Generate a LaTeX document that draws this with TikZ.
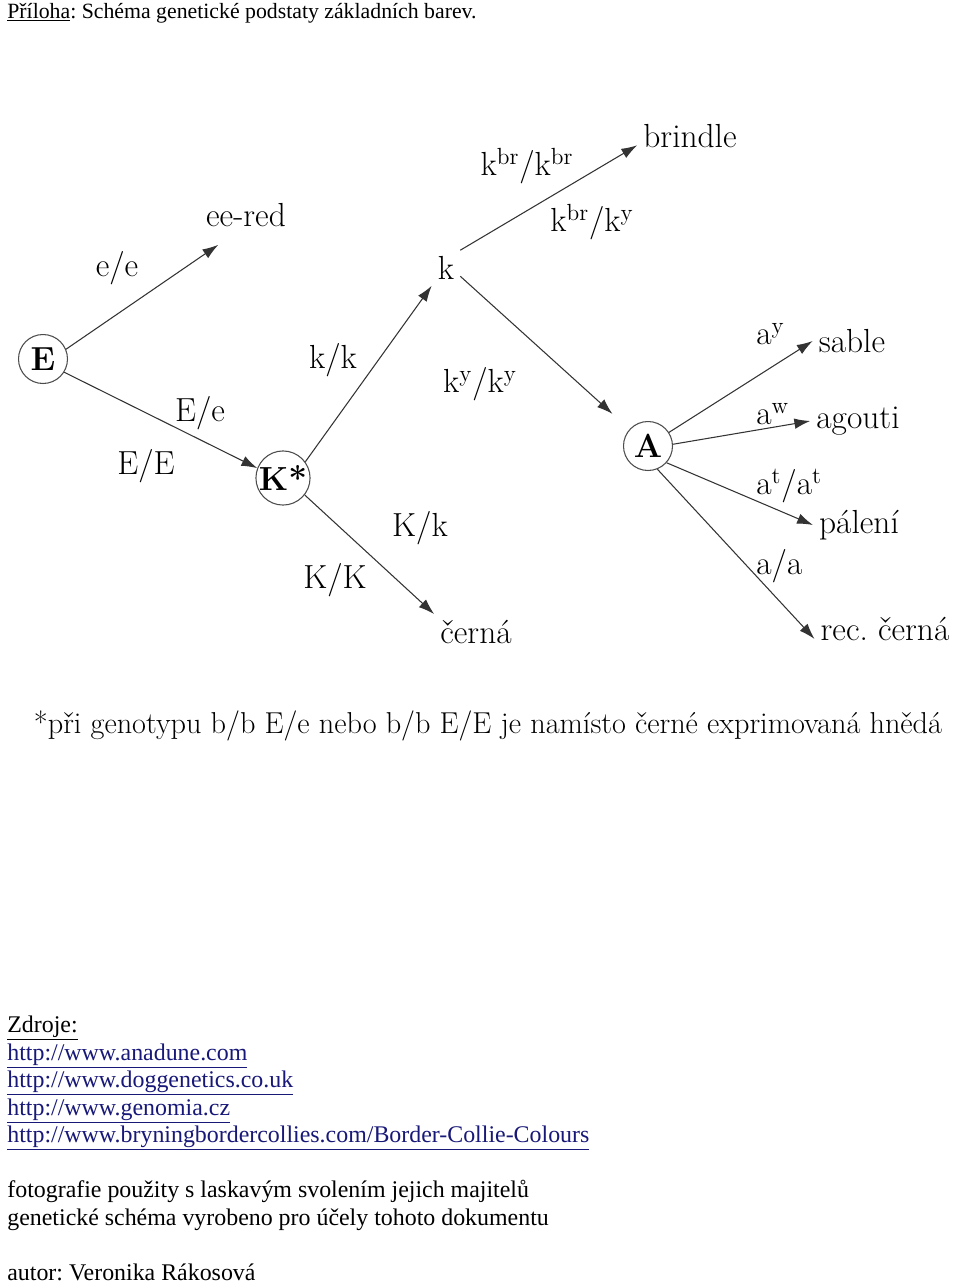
\documentclass[tikz,border=0pt]{standalone}
\usepackage{fontspec}
\newfontfamily\tnr{Liberation Serif}
\usetikzlibrary{arrows.meta}
\definecolor{linkblue}{RGB}{24,24,120}
\frenchspacing

\begin{document}
\begin{tikzpicture}[x=0.02cm, y=-0.02cm,
    gene/.style={circle, draw=black!70, line width=0.6pt, minimum size=0.98cm, inner sep=0pt, font=\fontsize{19}{22}\selectfont\bfseries},
    lbl/.style={font=\fontsize{19}{22}\selectfont},
    allele/.style={lbl, anchor=west, inner sep=0pt},
    doc/.style={anchor=base west, inner sep=0pt, font=\tnr\fontsize{13.6}{16}\selectfont},
    link/.style={doc, text=linkblue},
    arr/.style={-{Latex[length=9pt, width=6pt]}, draw=black!80, line width=0.6pt}]
        \useasboundingbox (0,0) rectangle (960,1285);
        \fill[white] (0,0) rectangle (960,1285);

        % header
        \node[doc, font=\tnr\fontsize{12.4}{15}\selectfont] at (7, 18) (head) {\underline{Příloha}: Schéma genetické podstaty základních barev.};

        % loci
        \node[gene] at (43, 359)  (e)   {E};
        \node[gene] at (283, 478) (kst) {K*};
        \node[gene] at (648, 446) (a)   {A};
        \node[lbl]  at (446, 268) (k)   {k};

        % phenotypes
        \node[lbl] at (246, 215) (eered)    {ee-red};
        \node[lbl] at (690, 136) (brindle)  {brindle};
        \node[lbl] at (476, 632) (cerna)    {černá};
        \node[lbl] at (852, 341) (sable)    {sable};
        \node[lbl] at (858, 421) (agouti)   {agouti};
        \node[lbl] at (859, 525) (paleni)   {pálení};
        \node[lbl] at (885, 629) (reccerna) {rec. černá};

        % genotypes
        \node[lbl] at (117, 268) (ee)   {e/e};
        \node[lbl] at (200, 413) (Ee)   {E/e};
        \node[lbl] at (146, 466) (EE)   {E/E};
        \node[lbl] at (333, 360) (kk)   {k/k};
        \node[lbl] at (480, 384) (kyky) {k\textsuperscript{y}/k\textsuperscript{y}};
        \node[lbl] at (420, 528) (Kk)   {K/k};
        \node[lbl] at (335, 580) (KK)   {K/K};
        \node[lbl] at (527, 166) (kbrkbr) {k\textsuperscript{br}/k\textsuperscript{br}};
        \node[lbl] at (592, 222) (kbrky)  {k\textsuperscript{br}/k\textsuperscript{y}};
        \node[allele] at (756, 334) (ay)   {a\textsuperscript{y}};
        \node[allele] at (756, 414) (aw)   {a\textsuperscript{w}};
        \node[allele] at (756, 486) (atat) {a\textsuperscript{t}/a\textsuperscript{t}};
        \node[allele] at (756, 566) (aa)   {a/a};

        \draw[arr, shorten >=12pt] (e.23) -- (eered.-120);
        \draw[arr] (e.-32) -- (kst.159);
        \draw[arr] (kst.36) -- (k.south west);
        \draw[arr] (kst.-38) -- (cerna.north west);
        \draw[arr] (k.north east) -- (brindle.190);
        \draw[arr, shorten >=13pt] (k.-30) -- (a);
        \draw[arr] (a.33) -- (sable.west);
        \draw[arr] (a.4) -- (agouti.west);
        \draw[arr] (a.-42) -- (paleni.west);
        \draw[arr] (a.-68) -- (reccerna.188);

        % footnote
        \node[lbl, font=\fontsize{17.2}{20}\selectfont] at (488, 726) (note) {*při genotypu b/b E/e nebo b/b E/E je namísto černé exprimovaná hnědá};

        % sources
        \node[doc]  at (7, 1032) (zdroje) {\underline{Zdroje:}};
        \node[link] at (7, 1060) (src1) {\underline{http://www.anadune.com}};
        \node[link] at (7, 1087) (src2) {\underline{http://www.doggenetics.co.uk}};
        \node[link] at (7, 1115) (src3) {\underline{http://www.genomia.cz}};
        \node[link] at (7, 1142) (src4) {\underline{http://www.bryningbordercollies.com/Border-Collie-Colours}};
        \node[doc]  at (7, 1197) (foto) {fotografie použity s laskavým svolením jejich majitelů};
        \node[doc]  at (7, 1225) (schema) {genetické schéma vyrobeno pro účely tohoto dokumentu};
        \node[doc]  at (7, 1280) (autor) {autor: Veronika Rákosová};
    \end{tikzpicture}
\end{document}
